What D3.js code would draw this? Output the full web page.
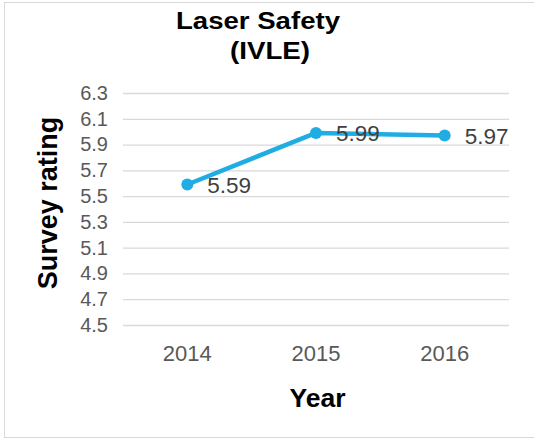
<!DOCTYPE html>
<html>
<head>
<meta charset="utf-8">
<script src="https://d3js.org/d3.v7.min.js"></script>
<style>
  body { margin: 0; background: #fff; }
  svg { font-family: "Liberation Sans", Arial, sans-serif; }
</style>
</head>
<body>
<div id="chart"></div>
<script>
var width = 534;
var height = 439;
var margin = { top: 93, bottom: 114, right: 25, left: 123 };

var years = ["2014", "2015", "2016"];
var ratings = [5.59, 5.99, 5.97];
var yTicks = [4.5, 4.7, 4.9, 5.1, 5.3, 5.5, 5.7, 5.9, 6.1, 6.3];

var data = years.map(function(y, i) { return { year: y, rating: ratings[i] }; });

var svg = d3.select("#chart")
  .append("svg")
  .attr("width", width)
  .attr("height", height);

// outer frame
svg.append("rect")
  .attr("x", 4.5)
  .attr("y", 2.5)
  .attr("width", width + 10)
  .attr("height", 435)
  .attr("fill", "none")
  .attr("stroke", "#d9d9d9")
  .attr("stroke-width", 1);

var xScale = d3.scaleBand()
  .domain(years)
  .range([margin.left, width - margin.right]);

var yScale = d3.scaleLinear()
  .domain([4.5, 6.3])
  .range([height - margin.bottom, margin.top]);

// gridlines
var axisy = d3.axisLeft(yScale)
  .tickValues(yTicks)
  .tickFormat(d3.format(".1f"))
  .tickSizeInner(-(width - margin.left - margin.right))
  .tickSizeOuter(0)
  .tickPadding(15);

var gy = svg.append("g")
  .attr("transform", "translate(" + margin.left + ",0)")
  .call(axisy);
gy.select(".domain").remove();
gy.selectAll(".tick line").attr("stroke", "#d9d9d9").attr("stroke-width", 1.3);
gy.selectAll(".tick text")
  .attr("fill", "#595959")
  .attr("font-size", "20px")
  .attr("font-family", "Liberation Sans, Arial, sans-serif");

var axisx = d3.axisBottom(xScale).tickSize(0).tickPadding(20);
var gx = svg.append("g")
  .attr("transform", "translate(0," + (height - margin.bottom) + ")")
  .call(axisx);
gx.select(".domain").remove();
gx.selectAll(".tick text")
  .attr("fill", "#595959")
  .attr("font-size", "22px")
  .attr("font-family", "Liberation Sans, Arial, sans-serif");

// line
var line = d3.line()
  .x(function(d) { return xScale(d.year) + xScale.bandwidth() / 2; })
  .y(function(d) { return yScale(d.rating); });

svg.append("path")
  .datum(data)
  .attr("d", line)
  .attr("fill", "none")
  .attr("stroke", "#1fade4")
  .attr("stroke-width", 4.5)
  .attr("stroke-linejoin", "round");

svg.append("g")
  .selectAll("circle")
  .data(data)
  .enter()
  .append("circle")
  .attr("cx", function(d) { return xScale(d.year) + xScale.bandwidth() / 2; })
  .attr("cy", function(d) { return yScale(d.rating); })
  .attr("r", 6)
  .attr("fill", "#1fade4");

svg.append("g")
  .selectAll("text")
  .data(data)
  .enter()
  .append("text")
  .attr("x", function(d) { return xScale(d.year) + xScale.bandwidth() / 2 + 20; })
  .attr("y", function(d) { return yScale(d.rating) + 8; })
  .attr("fill", "#404040")
  .attr("font-size", "22.5px")
  .text(function(d) { return d3.format(".2f")(d.rating); });

// titles
svg.append("text")
  .attr("x", 176)
  .attr("y", 28.5)
  .attr("textLength", 164)
  .attr("lengthAdjust", "spacingAndGlyphs")
  .attr("font-size", "23px")
  .attr("font-weight", "bold")
  .attr("fill", "#000")
  .text("Laser Safety");

svg.append("text")
  .attr("x", 230)
  .attr("y", 59)
  .attr("textLength", 80)
  .attr("lengthAdjust", "spacingAndGlyphs")
  .attr("font-size", "23px")
  .attr("font-weight", "bold")
  .attr("fill", "#000")
  .text("(IVLE)");

svg.append("text")
  .attr("transform", "rotate(-90)")
  .attr("x", -203)
  .attr("y", 57)
  .attr("text-anchor", "middle")
  .attr("font-size", "27px")
  .attr("font-weight", "bold")
  .attr("fill", "#000")
  .text("Survey rating");

svg.append("text")
  .attr("x", 317.5)
  .attr("y", 406.5)
  .attr("text-anchor", "middle")
  .attr("font-size", "26.5px")
  .attr("font-weight", "bold")
  .attr("fill", "#000")
  .text("Year");
</script>
</body>
</html>
